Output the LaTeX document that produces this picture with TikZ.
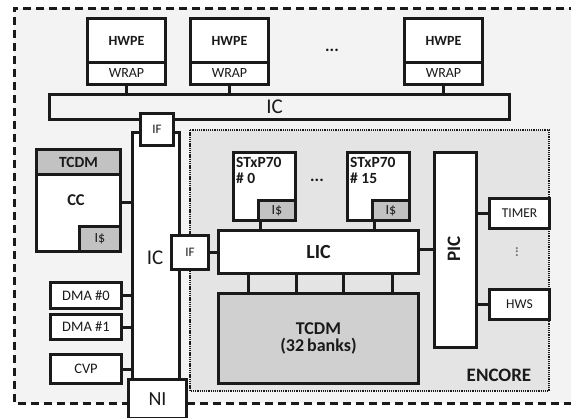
\documentclass[tikz,border=0pt]{standalone}
\usepackage{fontspec}
\setmainfont{Carlito}
\usetikzlibrary{calc}

\definecolor{outerbg}{HTML}{F3F3F3}
\definecolor{encorebg}{HTML}{E4E4E4}
\definecolor{cachegray}{HTML}{C2C2C2}
\definecolor{bankgray}{HTML}{D0D0D0}
\definecolor{ink}{HTML}{1A1A1A}

\begin{document}
\begin{tikzpicture}[
    x=1pt, y=-1pt,
    blk/.style={draw=ink, line width=3pt, fill=white, inner sep=0pt, anchor=north west, text=ink},
    graybox/.style={blk, fill=cachegray},
    wire/.style={draw=ink, line width=3pt},
    lbl/.style={inner sep=0pt, text=ink}
]

    % Marco y fondos
    \useasboundingbox (0,0) rectangle (571,418);
    \clip (0,0) rectangle (571,418);
    \fill[outerbg] (14,8) rectangle (590,403);
    \draw[ink, line width=3pt, dash pattern=on 8pt off 5pt] (590,8) -- (14,8) -- (14,403) -- (590,403);
    \draw[ink, line width=2.6pt, fill=encorebg, dash pattern=on 1.3pt off 0.9pt] (190,130) rectangle (549,391);

    % Aceleradores HWPE
    \foreach \x/\n in {86/a, 189/b, 403/c} {
        \node[blk, minimum width=78, minimum height=44, font=\bfseries\fontsize{14}{14}\selectfont] (hwpe\n) at (\x,17) {HWPE};
        \node[blk, minimum width=78, minimum height=22, font=\fontsize{14}{14}\selectfont] (wrap\n) at (\x,61) {WRAP};
    }
    \node[lbl, font=\bfseries\fontsize{17}{17}\selectfont] (hdots) at (332,50) {...};

    % Interconexión global
    \node[blk, fill=outerbg, minimum width=460, minimum height=25, font=\fontsize{21}{22}\selectfont] (icbar) at (48,93) {\hspace*{-10pt}IC};
    \foreach \n in {a, b, c}
        \draw[wire] (wrap\n.south) -- (wrap\n.south |- icbar.north);

    \node[blk, minimum width=47, minimum height=247] (icv) at (131,131) {};
    \node[lbl, font=\fontsize{21}{22}\selectfont] (iclbl) at (155,258) {IC};
    \node[blk, minimum width=33, minimum height=32, font=\fontsize{13}{13}\selectfont] (iftop) at (139,112) {IF};
    \node[blk, minimum width=58, minimum height=39, font=\fontsize{20}{21}\selectfont] (ni) at (127,378) {NI};

    % Cluster controller
    \node[blk, minimum width=84, minimum height=102] (cc) at (35,148) {};
    \node[graybox, minimum width=84, minimum height=25, font=\bfseries\fontsize{15.5}{16}\selectfont] (cctcdm) at (35,148) {TCDM};
    \node[graybox, minimum width=41, minimum height=25, font=\fontsize{14}{14}\selectfont] (ccic) at (78,225) {I\$};
    \node[lbl, font=\bfseries\fontsize{16.5}{17}\selectfont] (cclbl) at (76,200) {CC};
    \draw[wire] (cc.east |- 0,202) -- (icv.west |- 0,202);

    % DMA y CVP
    \node[blk, minimum width=71, minimum height=26, font=\fontsize{14.5}{15}\selectfont] (dma0) at (49,281) {DMA \#0};
    \node[blk, minimum width=71, minimum height=25, font=\fontsize{14.5}{15}\selectfont] (dma1) at (49,313) {DMA \#1};
    \node[blk, minimum width=71, minimum height=29, font=\fontsize{14.5}{15}\selectfont] (cvp) at (49,353) {CVP};
    \foreach \n in {dma0, dma1, cvp}
        \draw[wire] (\n.east) -- (\n.east -| icv.west);

    % ENCORE
    \node[blk, minimum width=37, minimum height=34, font=\fontsize{13}{13}\selectfont] (ifenc) at (170,234) {IF};
    \node[blk, minimum width=200, minimum height=43, font=\bfseries\fontsize{20}{21}\selectfont] (lic) at (217,229) {LIC};
    \draw[wire] (ifenc.east) -- (lic.west |- ifenc.east);
    \node[blk, fill=bankgray, minimum width=200, minimum height=90, align=center, font=\bfseries\fontsize{18}{17}\selectfont] (tcdm) at (217,292) {TCDM\\(32\,banks)};
    \foreach \x in {248, 296, 343, 392}
        \draw[wire] (\x,0 |- lic.south) -- (\x,0 |- tcdm.north);

    % Procesadores STxP70
    \foreach \x/\n/\k in {232/0/0, 346/15/f} {
        \node[blk, minimum width=62, minimum height=68] (core\k) at (\x,151) {};
        \node[lbl, anchor=north west, align=left, font=\bfseries\fontsize{15.5}{16}\selectfont] (corelbl\k) at ($(core\k.north west)+(4,6)$) {STxP70\\\# \n};
        \node[graybox, anchor=north east, minimum width=37, minimum height=20, font=\fontsize{14}{14}\selectfont] (cache\k) at (core\k.south east |- 0,199) {I\$};
        \draw[wire] ([xshift=3pt]cache\k.south west) -- ([xshift=3pt]cache\k.south west |- lic.north);
    }
    \node[lbl, font=\bfseries\fontsize{17}{17}\selectfont] (cdots) at (317,180) {...};

    % Periféricos
    \node[blk, minimum width=42, minimum height=195] (pic) at (433,151) {};
    \node[lbl, rotate=90, font=\bfseries\fontsize{19}{19}\selectfont] (piclbl) at (454,249) {PIC};
    \draw[wire] (lic.east |- 0,249) -- (pic.west |- 0,249);
    \node[blk, minimum width=60, minimum height=30, font=\fontsize{13.5}{14}\selectfont] (timer) at (488,197) {TIMER};
    \node[blk, minimum width=60, minimum height=30, font=\fontsize{13.5}{14}\selectfont] (hws) at (488,288) {HWS};
    \draw[wire] (timer.west) -- (timer.west -| pic.east);
    \draw[wire] (hws.west) -- (hws.west -| pic.east);
    \node[lbl, rotate=90, text=ink!60, font=\bfseries\fontsize{14}{14}\selectfont] (vdots) at (517,252) {...};
    \node[lbl, font=\bfseries\fontsize{19}{19}\selectfont] (encore) at (499,375) {ENCORE};

\end{tikzpicture}
\end{document}
